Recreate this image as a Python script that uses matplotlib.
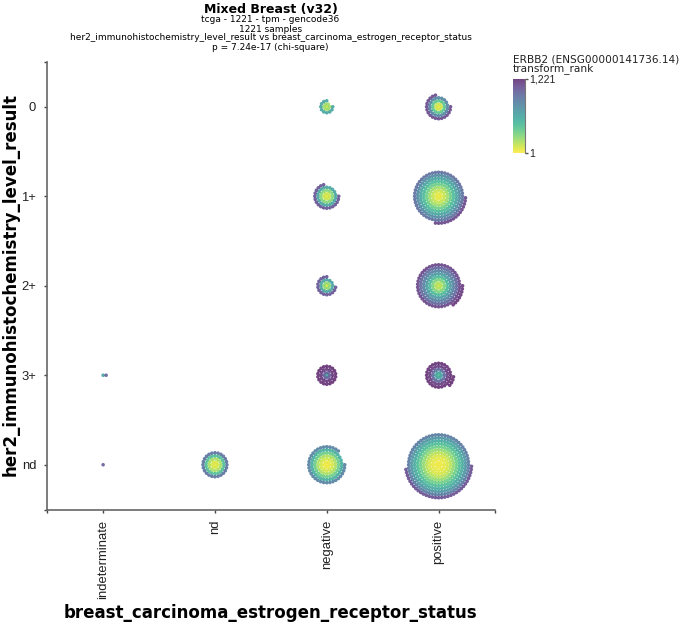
import matplotlib
matplotlib.use("Agg")
import matplotlib.pyplot as plt
import numpy as np

x_labels = ["indeterminate", "nd", "negative", "positive"]
y_labels = ["0", "1+", "2+", "3+", "nd"]

# one entry per occupied cell: x category, y category, samples
cell_x = ["indeterminate", "indeterminate", "nd", "negative", "negative", "negative", "negative", "negative",
          "positive", "positive", "positive", "positive", "positive"]
cell_y = ["3+", "nd", "nd", "0", "1+", "2+", "3+", "nd", "0", "1+", "2+", "3+", "nd"]
cell_n = [2, 1, 61, 17, 55, 33, 37, 123, 55, 232, 177, 65, 363]

# transform_rank of the samples, centre ring first
cell_ranks = [
    [610, 1000],
    [1000],
    [60, 90, 200, 450, 900],
    [140, 220, 600],
    [70, 120, 280, 600, 1050],
    [100, 250, 620, 1050],
    [600, 1000, 1180, 1210],
    [30, 50, 100, 190, 350, 550, 820],
    [50, 120, 400, 800, 1100],
    [40, 70, 130, 220, 340, 470, 610, 760, 920, 1120],
    [120, 170, 300, 480, 660, 820, 960, 1120, 1180],
    [450, 620, 950, 1150, 1200, 1210],
    [30, 40, 60, 90, 150, 240, 340, 450, 570, 700, 860, 1080],
]

W, H = 680, 623
L, R, T, B = 47.2, 494.5, 62, 509.5
STEP = 3.0


def swarm(n):
    # concentric rings of 6k points, filled clockwise from 3 o'clock
    px, py, ring = [0.0], [0.0], [0]
    k = 1
    while len(px) < n:
        # odd outer rings start half a step on, so the dots nest like a hex pack
        shift = 0.5 if k > 1 and k % 2 else 0.0
        a = (np.arange(6 * k) + shift) * 2 * np.pi / (6 * k)
        px.extend(k * STEP * np.cos(a))
        py.extend(k * STEP * np.sin(a))
        ring.extend([k] * (6 * k))
        k += 1
    return np.array(px[:n]), np.array(py[:n]), np.array(ring[:n])


figure = plt.figure(figsize=(W / 100, H / 100), dpi=100)
ax = figure.add_axes([L / W, 1 - B / H, (R - L) / W, (B - T) / H])
ax.set_xlim(-0.5, 3.5)
ax.set_ylim(4.5, -0.5)

x_unit = (R - L) / 4
y_unit = (B - T) / 5
all_x, all_y, all_c = [], [], []
for cx, cy, n, ranks in zip(cell_x, cell_y, cell_n, cell_ranks):
    px, py, ring = swarm(n)
    ranks = np.array(ranks)
    all_x.append(x_labels.index(cx) + px / x_unit)
    all_y.append(y_labels.index(cy) + py / y_unit)
    all_c.append(ranks[np.minimum(ring, len(ranks) - 1)])

ax.scatter(np.concatenate(all_x), np.concatenate(all_y), c=np.concatenate(all_c), cmap="viridis_r",
           vmin=1, vmax=1221, s=6.5, alpha=0.75, linewidths=0, clip_on=False)

for side in ["top", "right"]:
    ax.spines[side].set_visible(False)
for side in ["left", "bottom"]:
    ax.spines[side].set_color("#666666")
    ax.spines[side].set_linewidth(1.2)
ax.set_xticks(range(4))
ax.set_xticklabels(x_labels, rotation=90, fontfamily="Liberation Sans", fontsize=9.4, color="#222222")
ax.set_yticks(range(5))
ax.set_yticklabels(y_labels, fontfamily="Liberation Sans", fontsize=9.4, color="#222222")
ax.set_xticks([-0.5, 3.5], minor=True)
ax.set_yticks([-0.5, 4.5], minor=True)
ax.tick_params(which="both", length=2.5, width=1, color="#444444")
ax.tick_params(axis="x", pad=5)
ax.tick_params(axis="y", pad=5.4)


def put(x, y, s, **kw):
    figure.text(x / W, 1 - y / H, s, va="center", **kw)


put(270.5, 9, "Mixed Breast (v32)", ha="center", fontsize=9, fontweight="bold")
put(270.5, 20, "tcga - 1221 - tpm - gencode36", ha="center", fontsize=6.5)
put(270.5, 29, "1221 samples", ha="center", fontsize=6.5)
put(270.5, 38, "her2_immunohistochemistry_level_result vs breast_carcinoma_estrogen_receptor_status",
    ha="center", fontsize=6.5)
put(270.5, 47, "p = 7.24e-17 (chi-square)", ha="center", fontsize=6.5)

put(270.5, 613, "breast_carcinoma_estrogen_receptor_status", ha="center", fontsize=12, fontweight="bold")
put(11, 285, "her2_immunohistochemistry_level_result", ha="center", rotation=90, fontsize=12, fontweight="bold")

put(513, 59.5, "ERBB2 (ENSG00000141736.14)", ha="left", fontsize=7.6, color="#222222")
put(513, 68.5, "transform_rank", ha="left", fontsize=7.6, color="#222222")

cax = figure.add_axes([513 / W, 1 - 153 / H, 11.5 / W, 74 / H])
cax.imshow(np.linspace(1221, 1, 256).reshape(-1, 1), cmap="viridis_r", vmin=1, vmax=1221, aspect="auto",
           extent=[0, 1, 1, 1221], alpha=0.75)
cax.set_xticks([])
cax.yaxis.tick_right()
cax.set_yticks([1, 1221])
cax.set_yticklabels(["1", "1,221"], fontfamily="Liberation Sans", fontsize=7.5, color="#222222")
cax.tick_params(length=2.5, width=1, color="#555555", pad=1)
for side in ["top", "left", "bottom"]:
    cax.spines[side].set_visible(False)
cax.spines["right"].set_color("#777777")

plt.savefig("out.png", dpi=100)
